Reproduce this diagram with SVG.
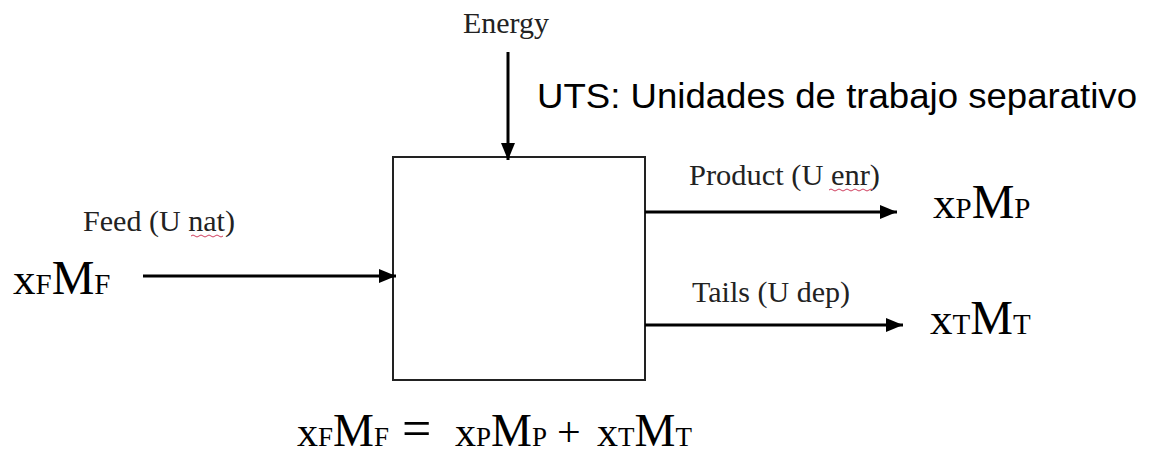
<svg xmlns="http://www.w3.org/2000/svg" width="1152" height="461" viewBox="0 0 1152 461">
<style>
.lbl{font-family:"Liberation Serif","Times New Roman",serif;font-size:29px;fill:#222}
.uts{font-family:"Liberation Sans",Arial,sans-serif;font-size:35px;fill:#000}
.f{font-family:"Liberation Serif","Times New Roman",serif;fill:#000}
.b{font-size:45px}
.m{font-size:48px}
.s{font-size:29px}
.eb{font-size:42px}
.em{font-size:46px}
.es{font-size:27px}
.edge{stroke:#000;stroke-width:3;fill:none}
.sq{stroke:#d04060;stroke-width:1;fill:none}
</style>
<defs>
<marker id="ah" markerUnits="userSpaceOnUse" markerWidth="18" markerHeight="14" refX="17" refY="7" orient="auto">
<path d="M0,0 L17,7 L0,14 z" fill="#000"/>
</marker>
</defs>
<rect width="1152" height="461" fill="#fff"/>
<g id="box">
<rect x="393" y="157" width="252" height="223" fill="#fff" stroke="#222" stroke-width="2"/>
</g>
<g id="connectors">
<line class="edge" x1="508" y1="52" x2="508" y2="160" marker-end="url(#ah)"/>
<line class="edge" x1="143" y1="276" x2="396" y2="276" marker-end="url(#ah)"/>
<line class="edge" x1="645" y1="212" x2="897" y2="212" marker-end="url(#ah)"/>
<line class="edge" x1="645" y1="325" x2="903" y2="325" marker-end="url(#ah)"/>
</g>
<g id="energy"><text class="lbl" x="463" y="33" textLength="86" lengthAdjust="spacingAndGlyphs">Energy</text></g>
<g id="uts"><text class="uts" x="537" y="108" textLength="600" lengthAdjust="spacingAndGlyphs">UTS: Unidades de trabajo separativo</text></g>
<g id="feed">
<text class="lbl" x="83" y="231" textLength="152" lengthAdjust="spacingAndGlyphs">Feed (U nat)</text>
<path class="sq" d="M191,236 q2,-2 4,0 t4,0 t4,0 t4,0 t4,0 t4,0 t4,0 t4,0"/>
</g>
<g id="product">
<text class="lbl" x="689" y="185" textLength="191" lengthAdjust="spacingAndGlyphs">Product (U enr)</text>
<path class="sq" d="M829,190 q2,-2 4,0 t4,0 t4,0 t4,0 t4,0 t4,0 t4,0 t4,0 t4,0 t4,0 t4,0"/>
</g>
<g id="tails"><text class="lbl" x="692" y="302" textLength="158" lengthAdjust="spacingAndGlyphs">Tails (U dep)</text></g>
<g id="xFMF"><text class="f" x="13" y="294"><tspan class="b">x</tspan><tspan class="s">F</tspan><tspan class="m">M</tspan><tspan class="s">F</tspan></text></g>
<g id="xPMP"><text class="f" x="933" y="218"><tspan class="b">x</tspan><tspan class="s">P</tspan><tspan class="m">M</tspan><tspan class="s">P</tspan></text></g>
<g id="xTMT"><text class="f" x="930" y="334"><tspan class="b">x</tspan><tspan class="s">T</tspan><tspan class="m">M</tspan><tspan class="s">T</tspan></text></g>
<g id="equation"><text class="f" x="297" y="446"><tspan class="eb">x</tspan><tspan class="es">F</tspan><tspan class="em">M</tspan><tspan class="es">F</tspan><tspan font-size="52" x="402">=</tspan><tspan class="eb" x="455">x</tspan><tspan class="es">P</tspan><tspan class="em">M</tspan><tspan class="es">P</tspan><tspan class="eb" x="557">+</tspan><tspan class="eb" x="597">x</tspan><tspan class="es">T</tspan><tspan class="em">M</tspan><tspan class="es">T</tspan></text></g>
</svg>
